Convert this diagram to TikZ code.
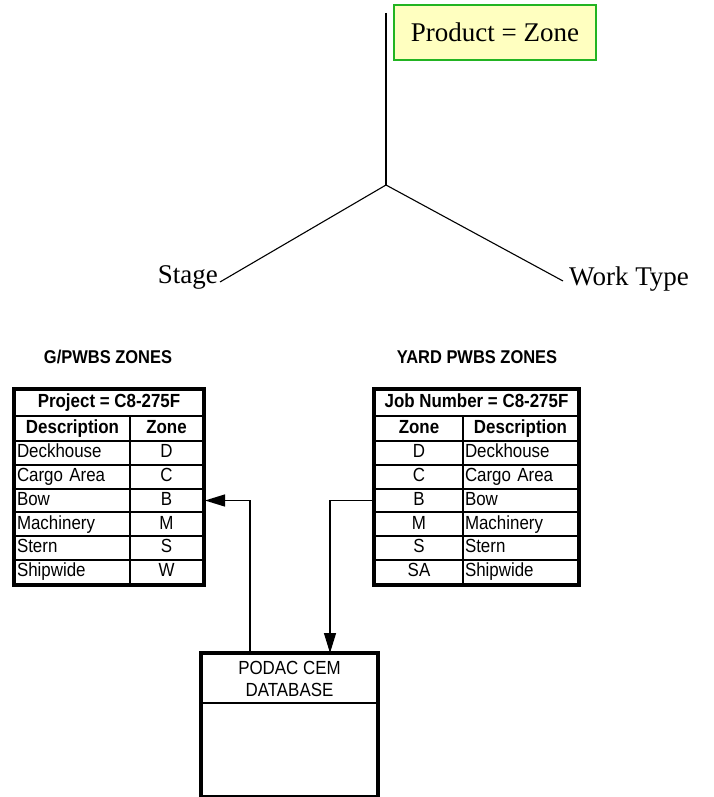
\documentclass[tikz,border=0pt]{standalone}
\usepackage{fontspec}
\setmainfont{Liberation Serif}
\setsansfont{Liberation Sans}
\newfontfamily\tabfont[FakeStretch=0.89]{Liberation Sans}
\usetikzlibrary{arrows.meta,calc}
\definecolor{boxfill}{HTML}{FFFFC0}
\definecolor{boxdraw}{HTML}{22B422}
\begin{document}
\begin{tikzpicture}[x=1pt,y=-1pt,
  tree/.style={font=\fontsize{27}{30}\selectfont, inner sep=0pt},
  treeline/.style={line width=1.1pt},
  cellbase/.style={draw, line width=2pt, font=\tabfont\fontsize{19}{20}\selectfont,
    inner ysep=0pt, text height=13.6pt, text depth=4pt, anchor=north west, minimum height=23.8pt},
  cellL/.style={cellbase, text width=#1, align=left, inner xsep=2pt},
  cellC/.style={cellbase, minimum width=#1, inner xsep=0pt},
  hcell/.style={cellC=#1, font=\tabfont\bfseries\fontsize{19}{20}\selectfont, minimum height=25pt},
  tcell/.style={cellC=#1, font=\tabfont\bfseries\fontsize{19}{20}\selectfont, minimum height=26pt},
  outer/.style={line width=3.5pt},
  hdr/.style={font=\tabfont\bfseries\fontsize{18.5}{20}\selectfont, inner sep=0pt},
  conn/.style={line width=1.3pt},
  tip/.style={-{Triangle[length=20pt,width=12pt]}}
]
\fill[white] (0,0) rectangle (713,797);
\useasboundingbox (0,0) rectangle (713,797);

% ---- top tree ----
\node[tree, draw=boxdraw, fill=boxfill, line width=1.5pt, minimum width=202pt, minimum height=55pt] (prod) at (495,32.5) {Product = Zone};
\coordinate (top) at (386,13);
\coordinate (v) at (386,185);
\node[tree, anchor=base east] (stage) at (218,283) {Stage};
\node[tree, anchor=base west] (work) at (569,285) {Work Type};
\coordinate (stageend) at ($(stage.base east)+(2,-1)$);
\coordinate (workend) at ($(work.base west)+(-6,-4)$);
\draw[treeline] (top) -- (v);
\draw[treeline] (v) -- (stageend);
\draw[treeline] (v) -- (workend);

% ---- headings ----
\node[hdr] (gh) at (108,357) {G/PWBS ZONES};
\node[hdr] (yh) at (477,357) {YARD PWBS ZONES};

% ---- left table ----
\node[tcell=188pt] (lt) at (14,389) {Project = C8-275F};
\node[hcell=115pt] (lhd) at (14,415) {Description};
\node[hcell=73pt] (lhz) at (129,415) {Zone};
\foreach \d/\z [count=\i from 0] in {Deckhouse/D, Cargo Area/C, Bow/B, Machinery/M, Stern/S, Shipwide/W} {
  \node[cellL=111pt] (ld\i) at (14,{440+23.8*\i}) {\d};
  \node[cellC=73pt] (lz\i) at (129,{440+23.8*\i}) {\z};
}
\draw[outer] (lt.north west) rectangle (lz5.south east);

% ---- right table ----
\node[tcell=203pt] (rt) at (374,389) {Job Number = C8-275F};
\node[hcell=88pt] (rhz) at (374,415) {Zone};
\node[hcell=115pt] (rhd) at (462,415) {Description};
\foreach \z/\d [count=\i from 0] in {D/Deckhouse, C/Cargo Area, B/Bow, M/Machinery, S/Stern, SA/Shipwide} {
  \node[cellC=88pt] (rz\i) at (374,{440+23.8*\i}) {\z};
  \node[cellL=111pt] (rd\i) at (462,{440+23.8*\i}) {\d};
}
\draw[outer] (rt.north west) rectangle (rd5.south east);

% ---- database ----
\node[cellC=175pt, minimum height=49pt, align=center, text height=, text depth=, font=\tabfont\fontsize{19}{22}\selectfont] (dbt) at (201,653) {PODAC CEM\\DATABASE};
\node[cellC=175pt, minimum height=93pt, text height=, text depth=] (dbb) at (201,702) {};
\draw[outer] (dbt.north west) rectangle (dbb.south east);

% ---- connectors ----
\coordinate (dbL) at ($(dbt.north west)+(49,0)$);
\coordinate (dbR) at ($(dbt.north west)+(129,0)$);
\draw[conn, tip] (dbL) |- ($(lz2.east)+(1,0)$);
\draw[conn, tip] (rz2.west) -| (dbR);
\end{tikzpicture}
\end{document}
